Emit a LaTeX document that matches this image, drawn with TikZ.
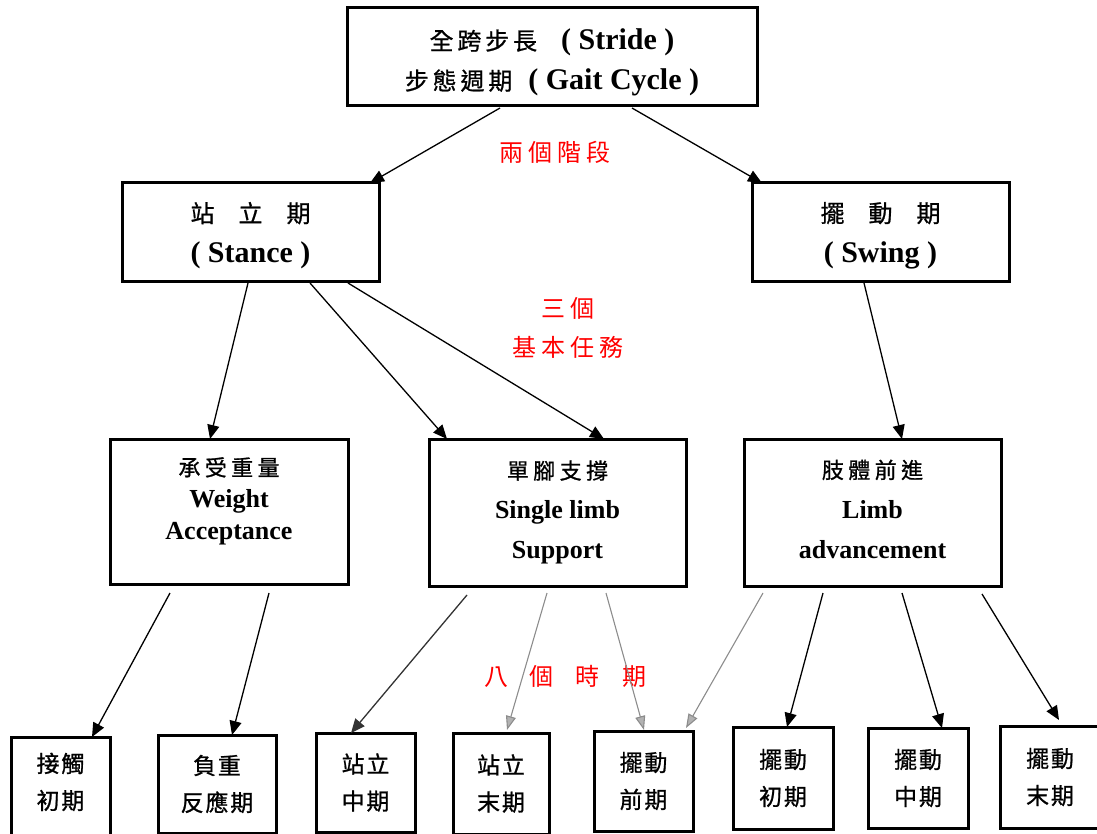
\documentclass[tikz,border=0pt]{standalone}
\usepackage{fontspec}
\setmainfont{Liberation Serif}
\newfontfamily\cjk[FakeBold=0.9]{Noto Sans CJK TC}
\newfontfamily\cjkt[LetterSpace=16,FakeBold=0.9]{Noto Sans CJK TC}
\newfontfamily\cjks[LetterSpace=20,FakeBold=0.9]{Noto Sans CJK TC}
\newfontfamily\cjkb[LetterSpace=8,FakeBold=0.9]{Noto Sans CJK TC}
\newfontfamily\cjkr[LetterSpace=22]{Noto Sans CJK TC}
\newfontfamily\cjkrr{Noto Sans CJK TC}
\usetikzlibrary{arrows.meta}
\newcommand{\zht}[1]{{\cjkt\mdseries\fontsize{24}{24}\selectfont #1}}
\newcommand{\zhw}[1]{{\cjk\mdseries\fontsize{24}{24}\selectfont #1}}
\newcommand{\zh}[1]{{\cjks\mdseries\fontsize{22}{22}\selectfont #1}}
\begin{document}
\begin{tikzpicture}[x=1pt,y=-1pt,
  box/.style={draw, line width=3pt, anchor=north west, align=center, inner sep=0pt, outer sep=0pt,
    font=\bfseries\fontsize{26}{38}\selectfont},
  bigbox/.style={box, font=\bfseries\fontsize{30}{40}\selectfont},
  bbox/.style={box, font=\cjkb\fontsize{23}{37}\selectfont},
  arr/.style={line width=1.3pt, -{Triangle[length=14pt,width=12pt]}},
  garr/.style={line width=1.1pt, draw=black!45, -{Triangle[length=14pt,width=10pt,fill=black!30]}},
  redlbl/.style={text=red, font=\cjkr\fontsize{24}{39}\selectfont, align=center, inner sep=0pt}]
\useasboundingbox (0,0) rectangle (1097,834);
\clip (0,0) rectangle (1097,834);

% main boxes
\node[bigbox, minimum width=410, minimum height=98] (top) at (347,8)
  {\rule{0pt}{32pt}\zht{全跨步長}\hspace{24pt}( Stride )\\\zht{步態週期}\hspace{16pt}( Gait Cycle )};
\node[bigbox, minimum width=257, minimum height=98] (stance) at (122,183)
  {\rule{0pt}{27pt}\zhw{站　立　期}\\( Stance )};
\node[bigbox, minimum width=257, minimum height=98] (swing) at (752,183)
  {\rule{0pt}{27pt}\zhw{擺　動　期}\\( Swing )};

\node[box, minimum width=238, minimum height=145, font=\bfseries\fontsize{26}{32}\selectfont] (wa) at (110,439)
  {\zh{承受重量}\\Weight\\Acceptance\\[-6pt]\mbox{}};
\node[box, minimum width=257, minimum height=147, font=\bfseries\fontsize{26}{40}\selectfont] (sl) at (429,439)
  {\zh{單腳支撐}\\Single limb\\Support};
\node[box, minimum width=257, minimum height=147, text depth=7pt, font=\bfseries\fontsize{26}{40}\selectfont] (la) at (744,439)
  {\zh{肢體前進}\\Limb\\advancement};

% bottom boxes
\node[bbox, minimum width=99,  minimum height=104, text depth=16pt] (b1) at (11,737) {接觸\\初期};
\node[bbox, minimum width=118, minimum height=98]  (b2) at (158,735) {負重\\反應期};
\node[bbox, minimum width=99,  minimum height=99]  (b3) at (316,733) {站立\\中期};
\node[bbox, minimum width=96,  minimum height=101] (b4) at (453,733) {站立\\末期};
\node[bbox, minimum width=99,  minimum height=100] (b5) at (594,731) {擺動\\前期};
\node[bbox, minimum width=100, minimum height=102] (b6) at (733,727) {擺動\\初期};
\node[bbox, minimum width=100, minimum height=100] (b7) at (868,728) {擺動\\中期};
\node[bbox, minimum width=100, minimum height=102] (b8) at (1000,726) {擺動\\末期};

% red labels
\node[redlbl] (l1) at (555,152) {兩個階段};
\node[redlbl] (l2) at (568,328) {三個\\基本任務};
\node[redlbl, font=\cjkrr\fontsize{24}{24}\selectfont] (l3) at (565,676) {八\hspace{22pt}個\hspace{22pt}時\hspace{22pt}期};

% connectors
\draw[arr] ([xshift=-52pt,yshift=-2pt]top.south) -- ([xshift=119.5pt]stance.north);
\draw[arr] ([xshift=80pt,yshift=-2pt]top.south) -- ([xshift=-118.5pt]swing.north);
\draw[arr] ([xshift=-2.5pt,yshift=-2pt]stance.south) -- ([xshift=-19pt]wa.north);
\draw[arr] ([xshift=59.5pt,yshift=-2pt]stance.south) -- ([xshift=-110.5pt]sl.north);
\draw[arr] ([xshift=97.5pt,yshift=-2pt]stance.south) -- ([xshift=46.5pt]sl.north);
\draw[arr] ([xshift=-16.5pt,yshift=-2pt]swing.south) -- ([xshift=29.5pt]la.north);

\draw[arr] ([xshift=-59pt,yshift=-9pt]wa.south) -- ([xshift=31.5pt]b1.north);
\draw[arr] ([xshift=40pt,yshift=-9pt]wa.south) -- ([xshift=15pt]b2.north);
\draw[arr, draw=black!80] ([xshift=-90.5pt,yshift=-9pt]sl.south) -- ([xshift=-14.5pt]b3.north);
\draw[garr] ([xshift=-10.5pt,yshift=-7pt]sl.south) -- ([xshift=6pt,yshift=3pt]b4.north);
\draw[garr] ([xshift=48.5pt,yshift=-7pt]sl.south) -- ([xshift=0.5pt,yshift=1pt]b5.north);
\draw[garr] ([xshift=-109.5pt,yshift=-7pt]la.south) -- ([xshift=42.5pt,yshift=3pt]b5.north);
\draw[arr] ([xshift=-49.5pt,yshift=-7pt]la.south) -- ([xshift=4pt]b6.north);
\draw[arr] ([xshift=29.5pt,yshift=-7pt]la.south) -- ([xshift=24pt]b7.north);
\draw[arr] ([xshift=109.5pt,yshift=-8pt]la.south) -- ([xshift=9pt,yshift=6pt]b8.north);
\end{tikzpicture}
\end{document}
